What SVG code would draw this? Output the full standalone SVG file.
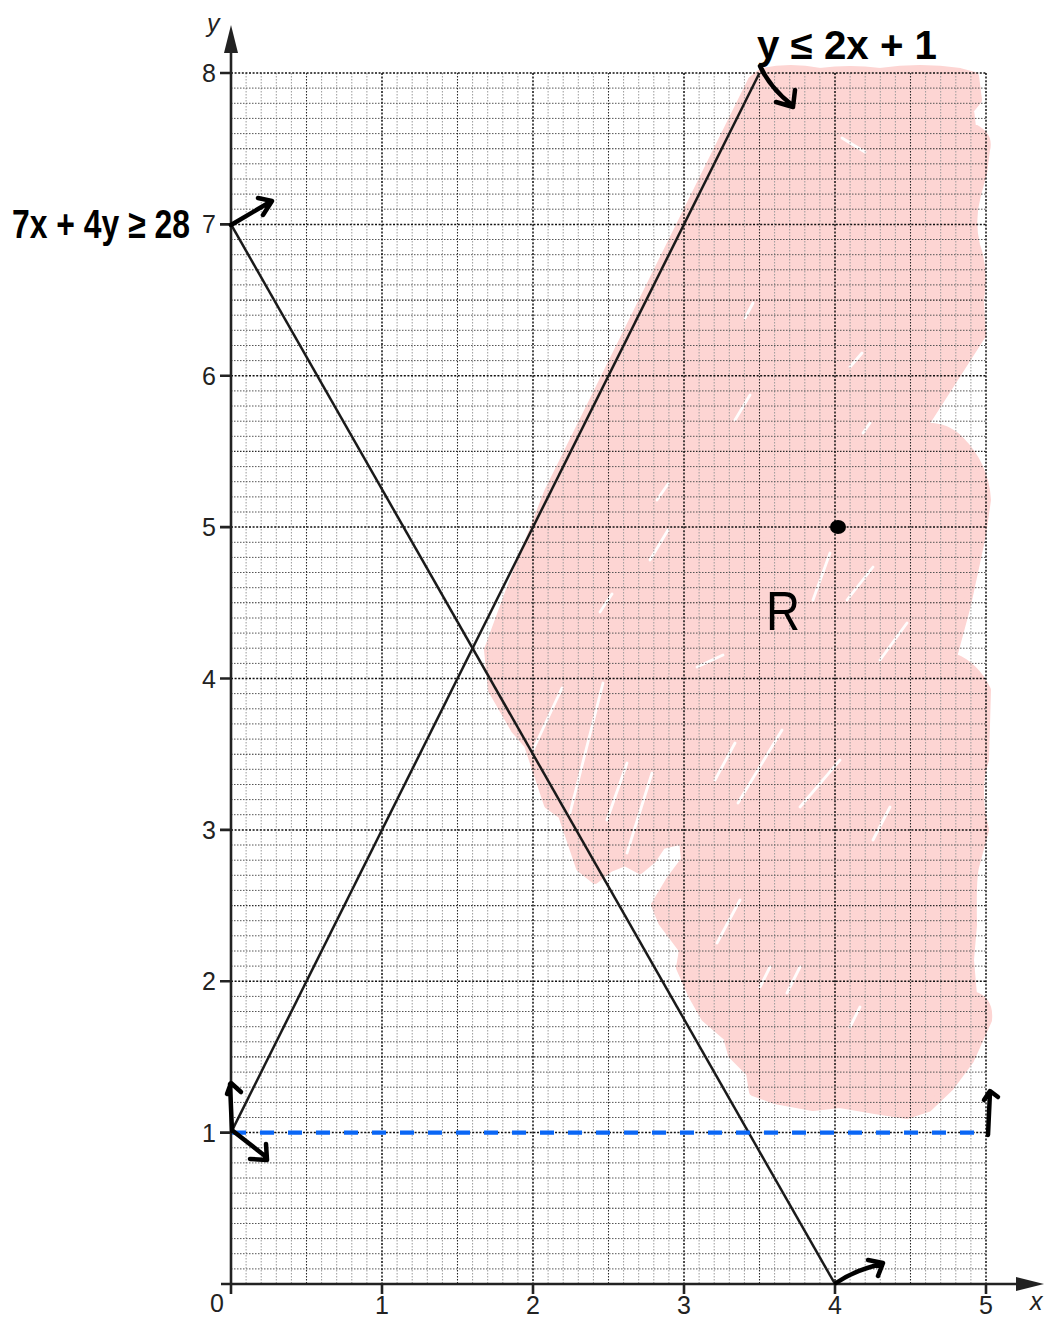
<svg xmlns="http://www.w3.org/2000/svg" width="1048" height="1318" viewBox="0 0 1048 1318">
<style>
.gmh{fill:none;stroke:#555;stroke-width:1;stroke-dasharray:1.5 1.5}
.gmv{fill:none;stroke:#9a9a9a;stroke-width:1;stroke-dasharray:1.5 1.5}
.ghalf{fill:none;stroke:#2a2a2a;stroke-width:1.1;stroke-dasharray:1.5 1.5}
.gmaj{fill:none;stroke:#111;stroke-width:1.5;stroke-dasharray:2 1.6}
.axis{fill:none;stroke:#222;stroke-width:2.6}
.num{font-family:"Liberation Sans",Arial,sans-serif;font-size:25px;fill:#222}
.ital{font-family:"Liberation Sans",Arial,sans-serif;font-size:25px;font-style:italic;fill:#222}
.hand{font-family:"Liberation Sans",Arial,sans-serif;font-weight:bold;fill:#000}
.pen{fill:none;stroke:#000;stroke-width:4.5;stroke-linecap:round;stroke-linejoin:round}
.line{fill:none;stroke:#1a1a1a;stroke-width:2.5}
.gap{fill:none;stroke:#fff;stroke-width:2.8;stroke-linecap:round;opacity:0.95}
</style>
<rect width="1048" height="1318" fill="#fff"/>

<!-- shaded region R -->
<g id="region">
<path d="M752 80 L762 72 Q790 66 820 72 Q850 68 880 72 Q920 66 960 72 L975 76 L978 100 L970 110 L972 127 Q990 135 986 150 L983 173 L977 195 Q970 220 976 245 Q985 270 980 300 L982 335 L923 427 Q945 425 960 440 Q985 465 987 500 L982 535 L967 605 L953 657 Q975 665 987 690 L985 760 Q975 790 985 830 L975 867 Q972 880 973 925 L970 960 L973 995 Q990 1000 988 1020 L970 1060 L950 1087 L928 1108 L907 1115 L875 1110 L840 1104 L813 1107 L775 1100 L753 1092 L750 1073 L732 1055 L727 1037 L705 1018 L692 995 L680 968 L683 950 L662 922 L655 905 L670 880 L685 860 L683 840 L662 845 L652 860 L640 870 L625 862 L610 868 L595 880 L580 868 L562 815 L548 805 L528 745 L515 730 L492 690 L488 650 L510 590 L548 492 Z" fill="#fdd5d3" stroke="#fdd5d3" stroke-width="8" stroke-linejoin="round"/>
<path class="gap" d="M533 750 L562 688 M570 813 L603 683 M607 820 L627 763 M627 853 L652 773 M715 780 L735 743 M738 803 L782 730 M697 667 L723 655 M717 943 L740 900 M787 993 L800 967 M850 1027 L860 1007 M760 987 L770 967 M850 367 L862 353 M863 433 L870 423 M813 600 L830 553 M847 600 L873 567 M880 660 L907 623 M800 807 L840 760 M873 840 L890 807 M842 138 L865 152 M735 420 L750 395 M745 318 L753 303 M657 500 L668 484 M600 612 L612 594 M650 560 L668 530"/>
</g>

<!-- grid -->
<g id="grid">
<path class="gmv" d="M246.1 73V1284M261.2 73V1284M276.3 73V1284M291.4 73V1284M321.6 73V1284M336.7 73V1284M351.8 73V1284M366.9 73V1284M397.1 73V1284M412.2 73V1284M427.3 73V1284M442.4 73V1284M472.6 73V1284M487.7 73V1284M502.8 73V1284M517.9 73V1284M548.1 73V1284M563.2 73V1284M578.3 73V1284M593.4 73V1284M623.6 73V1284M638.7 73V1284M653.8 73V1284M668.9 73V1284M699.1 73V1284M714.2 73V1284M729.3 73V1284M744.4 73V1284M774.6 73V1284M789.7 73V1284M804.8 73V1284M819.9 73V1284M850.1 73V1284M865.2 73V1284M880.3 73V1284M895.4 73V1284M925.6 73V1284M940.7 73V1284M955.8 73V1284M970.9 73V1284"/>
<path class="gmh" d="M231 1268.9H986M231 1253.7H986M231 1238.6H986M231 1223.5H986M231 1193.2H986M231 1178H986M231 1162.9H986M231 1147.8H986M231 1117.5H986M231 1102.4H986M231 1087.2H986M231 1072.1H986M231 1041.8H986M231 1026.7H986M231 1011.5H986M231 996.4H986M231 966.1H986M231 951H986M231 935.8H986M231 920.7H986M231 890.4H986M231 875.3H986M231 860.2H986M231 845H986M231 814.7H986M231 799.6H986M231 784.5H986M231 769.3H986M231 739.1H986M231 723.9H986M231 708.8H986M231 693.6H986M231 663.4H986M231 648.2H986M231 633.1H986M231 618H986M231 587.7H986M231 572.5H986M231 557.4H986M231 542.3H986M231 512H986M231 496.9H986M231 481.7H986M231 466.6H986M231 436.3H986M231 421.2H986M231 406H986M231 390.9H986M231 360.6H986M231 345.5H986M231 330.3H986M231 315.2H986M231 284.9H986M231 269.8H986M231 254.7H986M231 239.5H986M231 209.2H986M231 194.1H986M231 179H986M231 163.8H986M231 133.6H986M231 118.4H986M231 103.3H986M231 88.1H986"/>
<path class="ghalf" d="M306.5 73V1284M457.5 73V1284M608.5 73V1284M759.5 73V1284M910.5 73V1284M231 1208.3H986M231 1056.9H986M231 905.6H986M231 754.2H986M231 602.8H986M231 451.4H986M231 300.1H986M231 148.7H986"/>
<path class="gmaj" d="M382 73V1284M533 73V1284M684 73V1284M835 73V1284M986 73V1284M231 1132.6H986M231 981.3H986M231 829.9H986M231 678.5H986M231 527.1H986M231 375.8H986M231 224.4H986M231 73H986"/>
</g>

<!-- axes -->
<g id="axes">
<path class="axis" d="M231 1294V50M221 1284H1018"/>
<path d="M231 25 L224 53 L238 53 Z" fill="#222"/>
<path d="M1044 1284 L1016 1277 L1016 1291 Z" fill="#222"/>
<path class="axis" d="M220 1132.6H231M220 981.3H231M220 829.9H231M220 678.5H231M220 527.1H231M220 375.8H231M220 224.4H231M220 73H231M382 1284V1294M533 1284V1294M684 1284V1294M835 1284V1294M986 1284V1294"/>
<text class="num" x="216" y="1141.6" text-anchor="end">1</text>
<text class="num" x="216" y="990.3" text-anchor="end">2</text>
<text class="num" x="216" y="838.9" text-anchor="end">3</text>
<text class="num" x="216" y="687.5" text-anchor="end">4</text>
<text class="num" x="216" y="536.1" text-anchor="end">5</text>
<text class="num" x="216" y="384.8" text-anchor="end">6</text>
<text class="num" x="216" y="233.4" text-anchor="end">7</text>
<text class="num" x="216" y="82" text-anchor="end">8</text>
<text class="num" x="217" y="1312" text-anchor="middle">0</text>
<text class="num" x="382" y="1314" text-anchor="middle">1</text>
<text class="num" x="533" y="1314" text-anchor="middle">2</text>
<text class="num" x="684" y="1314" text-anchor="middle">3</text>
<text class="num" x="835" y="1314" text-anchor="middle">4</text>
<text class="num" x="986" y="1314" text-anchor="middle">5</text>
<text class="ital" x="207" y="32">y</text>
<text class="ital" x="1030" y="1310">x</text>
</g>

<!-- boundary lines -->
<g id="connectors">
<line id="line-y2x1" class="line" x1="231" y1="1132.6" x2="759.5" y2="73"/>
<line id="line-7x4y28" class="line" x1="231" y1="224.4" x2="835" y2="1284"/>
<line id="line-y1" x1="232" y1="1132.6" x2="987" y2="1132.6" stroke="#0a66f5" stroke-width="4.2" stroke-dasharray="14 14"/>
</g>

<!-- handwritten annotations -->
<g id="annotations">
<path class="pen" d="M760 66 Q770 88 792 105 M776 102 L793 107 L795 90"/>
<path class="pen" d="M231 225 L270 202 M258 198 L272 201 L263 215"/>
<path class="pen" d="M232 1131 L230 1084 M227 1094 L231 1083 L241 1092"/>
<path class="pen" d="M233 1131 L265 1156 M250 1159 L267 1160 L266 1144"/>
<path class="pen" d="M988 1135 L990 1092 M984 1100 L990 1091 L998 1097"/>
<path class="pen" d="M836 1283 Q855 1270 882 1264 M868 1260 L883 1263 L878 1276"/>
<text class="hand" x="757" y="59" font-size="40" textLength="180" lengthAdjust="spacingAndGlyphs">y ≤ 2x + 1</text>
<text class="hand" x="12" y="238" font-size="40" textLength="178" lengthAdjust="spacingAndGlyphs">7x + 4y ≥ 28</text>
<text x="766" y="630" font-family="Liberation Sans, Arial, sans-serif" font-size="56" fill="#000" textLength="34" lengthAdjust="spacingAndGlyphs">R</text>
<ellipse cx="838" cy="527" rx="8" ry="7" fill="#000"/>
</g>
</svg>
